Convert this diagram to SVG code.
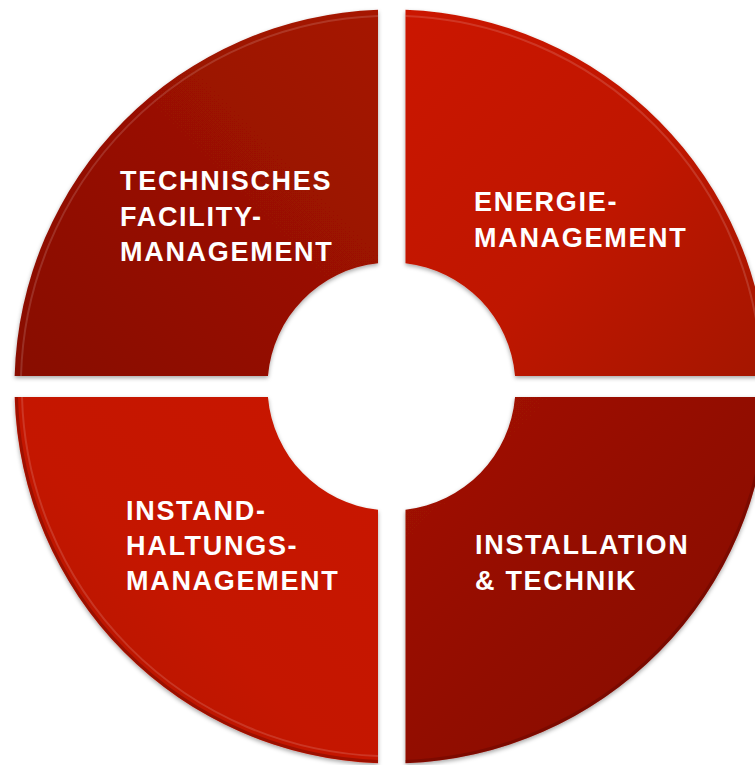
<svg xmlns="http://www.w3.org/2000/svg" width="755" height="765" viewBox="0 0 755 765">
  <style>
    .lbl { font-family: "Liberation Sans", Arial, Helvetica, sans-serif; font-weight: bold; font-size: 27px; letter-spacing: 1.7px; fill: #ffffff; }
    .hl { fill: none; stroke: #ffffff; stroke-opacity: 0.14; stroke-width: 2; }
    .rim { fill: none; stroke: #5a0500; stroke-opacity: 0.35; stroke-width: 3; }
  </style>
  <defs>
    <filter id="sh" x="-10%" y="-10%" width="120%" height="120%">
      <feDropShadow dx="0" dy="2" stdDeviation="2.2" flood-color="#000000" flood-opacity="0.35"/>
    </filter>
    <linearGradient id="gTL" x1="1" y1="0" x2="0" y2="1">
      <stop offset="0" stop-color="#a61505"/>
      <stop offset="1" stop-color="#880c02"/>
    </linearGradient>
    <linearGradient id="gTR" x1="0" y1="0" x2="1" y2="1">
      <stop offset="0" stop-color="#cb1900"/>
      <stop offset="0.55" stop-color="#bf1700"/>
      <stop offset="1" stop-color="#a41200"/>
    </linearGradient>
    <linearGradient id="gBL" x1="0" y1="1" x2="1" y2="0">
      <stop offset="0" stop-color="#b01503"/>
      <stop offset="0.45" stop-color="#c41800"/>
      <stop offset="1" stop-color="#c91900"/>
    </linearGradient>
    <linearGradient id="gBR" x1="0" y1="0" x2="1" y2="1">
      <stop offset="0" stop-color="#a31300"/>
      <stop offset="0.5" stop-color="#920e02"/>
      <stop offset="1" stop-color="#850b02"/>
    </linearGradient>
  </defs>

  <g id="node-technisches-fm">
    <path filter="url(#sh)" fill="url(#gTL)" d="M 378 9.74 A 377 377 0 0 0 14.65 376 L 267.95 376 A 124 124 0 0 1 378 263.24 Z"/>
    <path class="hl" d="M 378 16 A 370.5 370.5 0 0 0 21 376"/>
    <text class="lbl" x="120" y="190">TECHNISCHES</text>
    <text class="lbl" x="120" y="226">FACILITY-</text>
    <text class="lbl" x="120" y="261">MANAGEMENT</text>
  </g>

  <g id="node-energie">
    <path filter="url(#sh)" fill="url(#gTR)" d="M 405.5 9.76 A 377 377 0 0 1 768.35 376 L 515.05 376 A 124 124 0 0 0 405.5 263.29 Z"/>
    <path class="hl" d="M 405.5 16 A 370.5 370.5 0 0 1 762 376"/>
    <text class="lbl" x="474" y="211">ENERGIE-</text>
    <text class="lbl" x="474" y="247">MANAGEMENT</text>
  </g>

  <g id="node-instandhaltung">
    <path filter="url(#sh)" fill="url(#gBL)" d="M 14.65 397 A 377 377 0 0 0 378 763.26 L 378 509.76 A 124 124 0 0 1 267.95 397 Z"/>
    <path class="hl" d="M 22 397 A 369.5 369.5 0 0 0 378 756"/>
    <path class="rim" d="M 16.5 397 A 375 375 0 0 0 378 761.5"/>
    <text class="lbl" x="126" y="520">INSTAND-</text>
    <text class="lbl" x="126" y="555">HALTUNGS-</text>
    <text class="lbl" x="126" y="590">MANAGEMENT</text>
  </g>

  <g id="node-installation">
    <path filter="url(#sh)" fill="url(#gBR)" d="M 768.35 397 A 377 377 0 0 1 405.5 763.24 L 405.5 509.71 A 124 124 0 0 0 515.05 397 Z"/>
    <path class="rim" d="M 766.5 397 A 375 375 0 0 1 405.5 761.5"/>
    <text class="lbl" x="475" y="554">INSTALLATION</text>
    <text class="lbl" x="475" y="590">&amp; TECHNIK</text>
  </g>

  <g id="connectors"></g>
</svg>
